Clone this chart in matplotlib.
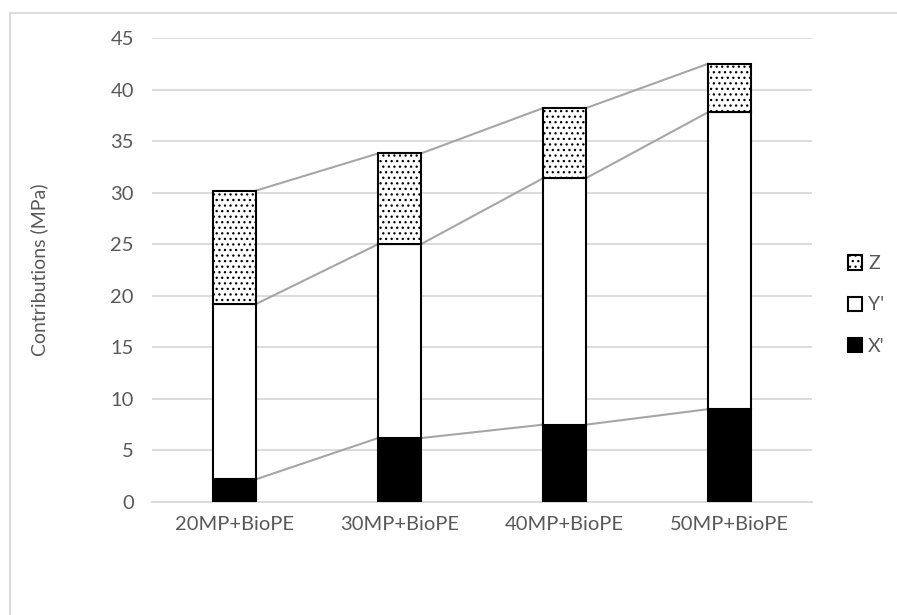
import numpy as np
import matplotlib
matplotlib.use('Agg')
import matplotlib.pyplot as plt
from matplotlib.patches import Patch
from matplotlib.lines import Line2D

plt.rcParams['font.family'] = ['Lato', 'DejaVu Sans']
plt.rcParams['hatch.linewidth'] = 0.9

# stacked contributions per blend
categories = ['20MP+BioPE', '30MP+BioPE', '40MP+BioPE', '50MP+BioPE']
x_prime = [2.2, 6.2, 7.5, 9.0]
y_prime = [17.0, 18.8, 23.9, 28.8]
z_part = [11.0, 8.8, 6.8, 4.7]

txt = '#595959'
grid = '#d9d9d9'

fig = plt.figure(figsize=(8.97, 6.15), dpi=100)
ax = fig.add_axes([152/897, 1 - 502/615, 660/897, 464/615])

x = np.arange(len(categories))
w = 0.26
xp = np.array(x_prime)
yp = np.array(y_prime)
zp = np.array(z_part)

ax.bar(x, xp, w, color='black', edgecolor='black', linewidth=1.5, zorder=3)
ax.bar(x, yp, w, bottom=xp, color='white', edgecolor='black', linewidth=1.5, zorder=3)
ax.bar(x, zp, w, bottom=xp + yp, color='white', edgecolor='black', linewidth=1.5,
       hatch='...', zorder=3)

# series lines joining the tops of each segment
for tops in (xp, xp + yp, xp + yp + zp):
    for i in range(len(x) - 1):
        ax.plot([x[i] + w/2, x[i+1] - w/2], [tops[i], tops[i+1]],
                color='#a6a6a6', linewidth=1.5, zorder=2)

ax.set_xlim(-0.5, len(x) - 0.5)
ax.set_ylim(0, 45)
ax.set_yticks(np.arange(0, 46, 5))
ax.set_xticks(x)
ax.set_xticklabels(categories)
ax.yaxis.grid(True, color=grid, linewidth=1.3, zorder=0)
ax.set_axisbelow(True)
for s in ['top', 'right', 'left']:
    ax.spines[s].set_visible(False)
ax.spines['bottom'].set_color(grid)
ax.spines['bottom'].set_linewidth(1.3)
ax.tick_params(length=0, labelsize=14.5, colors=txt, pad=10)
ax.tick_params(axis='y', pad=13)
ax.set_ylabel('Contributions (MPa)', fontsize=14, color=txt, labelpad=45)

handles = [Patch(facecolor='white', edgecolor='black', hatch='...', linewidth=1.5),
           Patch(facecolor='white', edgecolor='black', linewidth=1.5),
           Patch(facecolor='black', edgecolor='black', linewidth=1.5)]
leg = fig.legend(handles, ['Z', "Y'", "X'"], loc='center left',
                 bbox_to_anchor=(838/897, 1 - 305/615), frameon=False,
                 fontsize=14, labelcolor=txt, handlelength=0.75, handleheight=0.75,
                 handletextpad=0.3, labelspacing=1.25, borderpad=0)

# chart area border
fig.add_artist(Line2D([10/897, 10/897], [0, 1 - 13/615], color=grid, linewidth=1.3))
fig.add_artist(Line2D([10/897, 1], [1 - 13/615, 1 - 13/615], color=grid, linewidth=1.3))

fig.savefig('out.png', dpi=100)
